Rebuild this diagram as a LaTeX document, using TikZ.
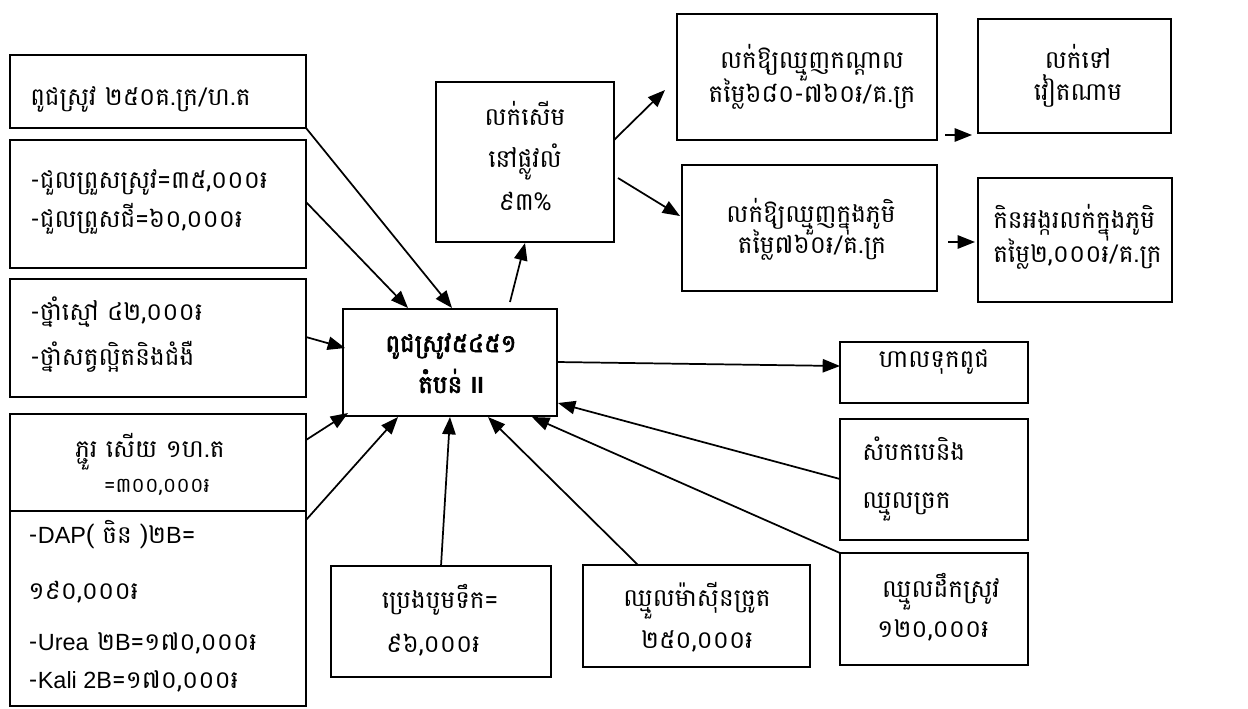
\documentclass[tikz,border=0pt]{standalone}
\usepackage{fontspec}
\setmainfont{Battambang}[Script=Khmer,AutoFakeBold=2.5]
\newfontfamily\lat{Liberation Sans}[Scale=0.95]
\usetikzlibrary{arrows.meta,calc,fit}
\begin{document}
\begin{tikzpicture}[x=0.75pt,y=-0.75pt,
  box/.style={draw,line width=1.3pt,inner sep=0pt,outer sep=0pt,rectangle},
  arr/.style={line width=1.3pt,-{Triangle[length=13pt,width=10pt]}},
  txt/.style={inner sep=0pt,font=\fontsize{18.5}{22}\selectfont},
  stxt/.style={inner sep=0pt,font=\fontsize{15.5}{18}\selectfont}]
\fill[white] (0,0) rectangle (1248,708);
\useasboundingbox (0,0) rectangle (1248,708);
% boxes
\node[box,fit={(10,55) (306,128)}] (A) {};
\node[box,fit={(10,140) (306,268)}] (B) {};
\node[box,fit={(10,279) (306,397)}] (C) {};
\node[box,fit={(10,414) (306,511)}] (D) {};
\node[box,fit={(10,511) (306,706)}] (E) {};
\node[box,fit={(343,309) (557,416)}] (H) {};
\node[box,fit={(436,82) (614,242)}] (F) {};
\node[box,fit={(677,14) (937,140)}] (G) {};
\node[box,fit={(978,19) (1171,133)}] (I) {};
\node[box,fit={(682,165) (937,291)}] (J) {};
\node[box,fit={(978,178) (1172,302)}] (K) {};
\node[box,fit={(840,342) (1028,403)}] (L) {};
\node[box,fit={(840,419) (1028,540)}] (M) {};
\node[box,fit={(840,553) (1028,665)}] (N) {};
\node[box,fit={(331,566) (551,677)}] (O) {};
\node[box,fit={(583,565) (810,667)}] (P) {};
% texts
\node[txt,anchor=base west] (tA) at (30,105) {ពូជស្រូវ ២៥០គ.ក្រ/ហ.ត};
\node[txt,anchor=base west] (tB1) at (30,188) {-ជួលព្រួសស្រូវ=៣៥,០០០៛};
\node[txt,anchor=base west] (tB2) at (30,227) {-ជួលព្រួសជី=៦០,០០០៛};
\node[txt,anchor=base west] (tC1) at (30,320) {-ថ្នាំស្មៅ ៤២,០០០៛};
\node[txt,anchor=base west] (tC2) at (30,365) {-ថ្នាំសត្វល្អិតនិងជំងឺ};
\node[txt,anchor=base] (tD1) at (150,457) {ភ្ជួរ សើយ ១ហ.ត};
\node[stxt,anchor=base] (tD2) at (157,492) {=៣០០,០០០៛};
\node[txt,anchor=base west] (tE1) at (28,543) {-{\lat DAP}( ចិន )២{\lat B}=};
\node[txt,anchor=base west] (tE2) at (28,599) {១៩០,០០០៛};
\node[txt,anchor=base west] (tE3) at (28,650) {-{\lat Urea} ២{\lat B}=១៧០,០០០៛};
\node[txt,anchor=base west] (tE4) at (28,688) {-{\lat Kali 2B}=១៧០,០០០៛};
\node[txt,anchor=base,font=\fontsize{18.5}{22}\selectfont\bfseries] (tH1) at (451,352) {ពូជស្រូវ៥៤៥១};
\node[txt,anchor=base,font=\fontsize{18.5}{22}\selectfont\bfseries] (tH2) at (451,393) {តំបន់ {\lat\bfseries II}};
\node[txt,anchor=base] (tF1) at (525,125) {លក់សើម};
\node[txt,anchor=base] (tF2) at (525,167) {នៅផ្លូវលំ};
\node[txt,anchor=base] (tF3) at (525,210) {៩៣\%};
\node[txt,anchor=base] (tG1) at (812,68) {លក់ឱ្យឈ្មួញកណ្តាល};
\node[txt,anchor=base] (tG2) at (812,102) {តម្លៃ៦៨០-៧៦០៛/គ.ក្រ};
\node[txt,anchor=base] (tI1) at (1078,68) {លក់ទៅ};
\node[txt,anchor=base] (tI2) at (1078,100) {វៀតណាម};
\node[txt,anchor=base] (tJ1) at (811,222) {លក់ឱ្យឈ្មួញក្នុងភូមិ};
\node[txt,anchor=base] (tJ2) at (812,253) {តម្លៃ៧៦០៛/គ.ក្រ};
\node[txt,anchor=base west] (tK1) at (993,228) {កិនអង្ករលក់ក្នុងភូមិ};
\node[txt,anchor=base west] (tK2) at (993,262) {តម្លៃ២,០០០៛/គ.ក្រ};
\node[txt,anchor=base] (tL) at (934,367) {ហាលទុកពូជ};
\node[txt,anchor=base west] (tM1) at (862,460) {សំបកបេនិង};
\node[txt,anchor=base west] (tM2) at (862,508) {ឈ្មួលច្រក};
\node[txt,anchor=base] (tN1) at (941,597) {ឈ្មួលដឹកស្រូវ};
\node[txt,anchor=base] (tN2) at (933,637) {១២០,០០០៛};
\node[txt,anchor=base] (tO1) at (440,608) {ប្រេងបូមទឹក=};
\node[txt,anchor=base] (tO2) at (433,652) {៩៦,០០០៛};
\node[txt,anchor=base] (tP1) at (697,606) {ឈ្មួលម៉ាស៊ីនច្រូត};
\node[txt,anchor=base] (tP2) at (697,648) {២៥០,០០០៛};
% connectors
\draw[arr] (A.south east) -- ($(H.north west)+(109,-1)$);
\draw[arr] ($(B.north east)+(0,62)$) -- ($(H.north west)+(65,-1)$);
\draw[arr] ($(C.north east)+(0,58)$) -- ($(H.north west)+(2,39)$);
\draw[arr] ($(D.north east)+(0,26)$) -- ($(H.south west)+(5,-3)$);
\draw[arr] ($(E.north east)+(0,9)$) -- ($(H.south west)+(55,1)$);
\draw[arr] ($(O.north west)+(110,0)$) -- ($(H.south west)+(107,1)$);
\draw[arr] ($(P.north west)+(55,0)$) -- ($(H.south west)+(145,1)$);
\draw[arr] (N.north west) -- ($(H.south east)+(-25,1)$);
\draw[arr] ($(M.north west)+(0,60)$) -- ($(H.south east)+(1,-13)$);
\draw[arr] ($(H.north east)+(0,53)$) -- ($(L.north west)+(0,24)$);
\draw[arr] ($(H.north west)+(167,-7)$) -- ($(F.south west)+(89,1)$);
\draw[arr] ($(F.north east)+(0,58)$) -- ($(G.north west)+(-12,76)$);
\draw[arr] ($(F.north east)+(4,96)$) -- ($(J.north west)+(-2,51)$);
\coordinate (g1) at ($(G.south east)+(8,-5)$);
\draw[arr] (g1) -- ($(I.south west)+(-6,2)$);
\coordinate (j1) at ($(J.south east)+(11,-49)$);
\draw[arr] (j1) -- ($(K.north west)+(-3,64)$);
\end{tikzpicture}
\end{document}
